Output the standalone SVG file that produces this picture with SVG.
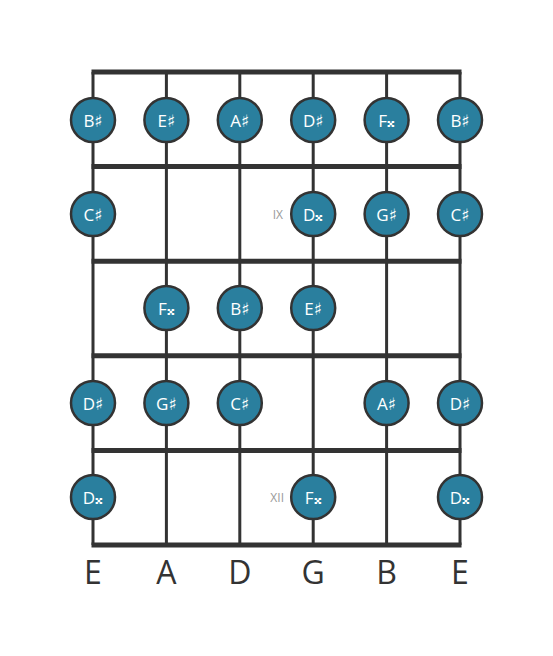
<svg xmlns="http://www.w3.org/2000/svg" width="553" height="656" viewBox="0 0 553 656">
<style>
.str{stroke:#333;stroke-width:3;fill:none}
.fret{stroke:#333;stroke-width:5;fill:none}
.dot{fill:#2a7f9e;stroke:#333;stroke-width:2.5}
.nt{font-family:"Open Sans","DejaVu Sans",sans-serif;font-size:17px;fill:#fff;text-anchor:middle;dominant-baseline:central}
.sn{font-family:"Open Sans","DejaVu Sans",sans-serif;font-size:32px;fill:#333;text-anchor:middle}
.fr{font-family:"Open Sans","DejaVu Sans",sans-serif;font-size:12px;fill:#999;text-anchor:end;dominant-baseline:central}
</style>
<rect width="553" height="656" fill="#fff"/>
<g id="connectors">
<line class="str" x1="93" y1="72" x2="93" y2="545"/>
<line class="str" x1="166.4" y1="72" x2="166.4" y2="545"/>
<line class="str" x1="239.8" y1="72" x2="239.8" y2="545"/>
<line class="str" x1="313.2" y1="72" x2="313.2" y2="545"/>
<line class="str" x1="386.6" y1="72" x2="386.6" y2="545"/>
<line class="str" x1="460" y1="72" x2="460" y2="545"/>
<line class="fret" x1="91.5" y1="72" x2="461.5" y2="72"/>
<line class="fret" x1="91.5" y1="166.6" x2="461.5" y2="166.6"/>
<line class="fret" x1="91.5" y1="261.2" x2="461.5" y2="261.2"/>
<line class="fret" x1="91.5" y1="355.8" x2="461.5" y2="355.8"/>
<line class="fret" x1="91.5" y1="450.4" x2="461.5" y2="450.4"/>
<line class="fret" x1="91.5" y1="545" x2="461.5" y2="545"/>
</g>
<g id="fret-labels">
<text class="fr" x="283" y="214">IX</text>
<text class="fr" x="284" y="497">XII</text>
</g>
<g id="n1-1"><circle class="dot" cx="93" cy="120" r="22"/><text class="nt" x="93" y="120">B♯</text></g>
<g id="n1-2"><circle class="dot" cx="166.4" cy="120" r="22"/><text class="nt" x="166.4" y="120">E♯</text></g>
<g id="n1-3"><circle class="dot" cx="239.8" cy="120" r="22"/><text class="nt" x="239.8" y="120">A♯</text></g>
<g id="n1-4"><circle class="dot" cx="313.2" cy="120" r="22"/><text class="nt" x="313.2" y="120">D♯</text></g>
<g id="n1-5"><circle class="dot" cx="386.6" cy="120" r="22"/><text class="nt" x="386.6" y="120">F𝄪</text></g>
<g id="n1-6"><circle class="dot" cx="460" cy="120" r="22"/><text class="nt" x="460" y="120">B♯</text></g>
<g id="n2-1"><circle class="dot" cx="93" cy="214" r="22"/><text class="nt" x="93" y="214">C♯</text></g>
<g id="n2-4"><circle class="dot" cx="313.2" cy="214" r="22"/><text class="nt" x="313.2" y="214">D𝄪</text></g>
<g id="n2-5"><circle class="dot" cx="386.6" cy="214" r="22"/><text class="nt" x="386.6" y="214">G♯</text></g>
<g id="n2-6"><circle class="dot" cx="460" cy="214" r="22"/><text class="nt" x="460" y="214">C♯</text></g>
<g id="n3-2"><circle class="dot" cx="166.4" cy="308" r="22"/><text class="nt" x="166.4" y="308">F𝄪</text></g>
<g id="n3-3"><circle class="dot" cx="239.8" cy="308" r="22"/><text class="nt" x="239.8" y="308">B♯</text></g>
<g id="n3-4"><circle class="dot" cx="313.2" cy="308" r="22"/><text class="nt" x="313.2" y="308">E♯</text></g>
<g id="n4-1"><circle class="dot" cx="93" cy="403" r="22"/><text class="nt" x="93" y="403">D♯</text></g>
<g id="n4-2"><circle class="dot" cx="166.4" cy="403" r="22"/><text class="nt" x="166.4" y="403">G♯</text></g>
<g id="n4-3"><circle class="dot" cx="239.8" cy="403" r="22"/><text class="nt" x="239.8" y="403">C♯</text></g>
<g id="n4-5"><circle class="dot" cx="386.6" cy="403" r="22"/><text class="nt" x="386.6" y="403">A♯</text></g>
<g id="n4-6"><circle class="dot" cx="460" cy="403" r="22"/><text class="nt" x="460" y="403">D♯</text></g>
<g id="n5-1"><circle class="dot" cx="93" cy="497" r="22"/><text class="nt" x="93" y="497">D𝄪</text></g>
<g id="n5-4"><circle class="dot" cx="313.2" cy="497" r="22"/><text class="nt" x="313.2" y="497">F𝄪</text></g>
<g id="n5-6"><circle class="dot" cx="460" cy="497" r="22"/><text class="nt" x="460" y="497">D𝄪</text></g>
<g id="string-names">
<text class="sn" x="93" y="584">E</text>
<text class="sn" x="166.4" y="584">A</text>
<text class="sn" x="239.8" y="584">D</text>
<text class="sn" x="313.2" y="584">G</text>
<text class="sn" x="386.6" y="584">B</text>
<text class="sn" x="460" y="584">E</text>
</g>
</svg>
